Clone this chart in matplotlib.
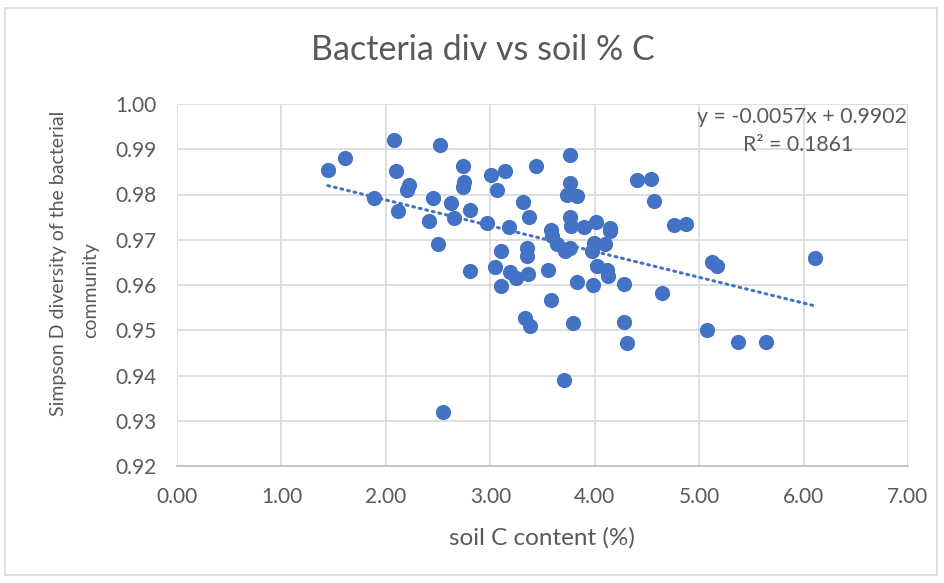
import numpy as np
import matplotlib
matplotlib.use('Agg')
import matplotlib.pyplot as plt
from matplotlib.patches import Rectangle

# soil C content (%) and Simpson D diversity
soil_c = [1.445, 1.604, 2.074, 2.515, 2.097, 2.218, 2.202, 1.889, 2.116, 2.451,
          2.413, 2.499, 2.627, 2.649, 2.735, 2.745, 2.735, 2.809, 2.806, 2.969,
          3.004, 3.068, 3.138, 3.177, 3.042, 3.100, 3.104, 3.186, 3.250, 3.362,
          3.314, 3.372, 3.442, 3.349, 3.353, 3.336, 3.385, 3.554, 3.583, 3.592,
          3.640, 3.720, 3.761, 3.583, 3.768, 3.768, 3.736, 3.832, 3.768, 3.775,
          3.902, 4.008, 4.145, 4.151, 3.992, 3.976, 4.094, 4.024, 4.120, 4.125,
          3.826, 3.986, 4.280, 3.790, 3.704, 2.547, 4.401, 4.541, 4.567, 4.758,
          4.870, 4.647, 5.126, 5.174, 6.107, 4.280, 4.305, 5.079, 5.376, 5.645]
simpson_d = [0.9854, 0.9880, 0.9920, 0.9909, 0.9852, 0.9822, 0.9811, 0.9792, 0.9763, 0.9792,
             0.9741, 0.9690, 0.9782, 0.9747, 0.9863, 0.9827, 0.9816, 0.9765, 0.9631, 0.9738,
             0.9844, 0.9809, 0.9852, 0.9729, 0.9639, 0.9676, 0.9597, 0.9628, 0.9616, 0.9625,
             0.9783, 0.9750, 0.9863, 0.9682, 0.9664, 0.9528, 0.9509, 0.9633, 0.9721, 0.9708,
             0.9690, 0.9675, 0.9682, 0.9566, 0.9887, 0.9826, 0.9798, 0.9796, 0.9751, 0.9730,
             0.9729, 0.9739, 0.9727, 0.9719, 0.9693, 0.9675, 0.9691, 0.9642, 0.9634, 0.9619,
             0.9607, 0.9600, 0.9603, 0.9515, 0.9389, 0.9319, 0.9832, 0.9835, 0.9786, 0.9732,
             0.9735, 0.9583, 0.9650, 0.9642, 0.9659, 0.9518, 0.9472, 0.9500, 0.9474, 0.9474]

# trendline as shown in the chart
slope = -0.0057
intercept = 0.9902

x_ticks = [0, 1, 2, 3, 4, 5, 6, 7]
y_ticks = [0.92, 0.93, 0.94, 0.95, 0.96, 0.97, 0.98, 0.99, 1.00]

plt.rcParams['font.family'] = ['Lato', 'DejaVu Sans']
grey = '#595959'
blue = '#4472C4'

W, H = 945, 583
fig = plt.figure(figsize=(W / 100, H / 100), dpi=100)
ax = fig.add_axes([177 / W, 117 / H, 731 / W, 362 / H])

ax.scatter(soil_c, simpson_d, s=120, color=blue, zorder=3, linewidths=0)

xt = np.array([min(soil_c), max(soil_c)])
ax.plot(xt, slope * xt + intercept, linestyle=(0, (0.6, 1.6)), color=blue,
        linewidth=2.2, dash_capstyle='round', zorder=2)

ax.set_xlim(0, 7)
ax.set_ylim(0.92, 1.00)
ax.set_xticks(x_ticks)
ax.set_xticklabels(['%.2f' % v for v in x_ticks])
ax.set_yticks(y_ticks)
ax.set_yticklabels(['%.2f' % v for v in y_ticks])
ax.tick_params(length=0, labelsize=15, labelcolor=grey)
ax.tick_params(axis='x', pad=15)
ax.tick_params(axis='y', pad=15)
ax.grid(True, color='#D9D9D9', linewidth=1.2, zorder=0)
ax.set_axisbelow(True)
for side in ['top', 'right', 'left']:
    ax.spines[side].set_visible(False)
ax.spines['bottom'].set_color('#BFBFBF')
ax.spines['bottom'].set_linewidth(1.2)

fig.text(542 / W, 1 - 538 / H, 'soil C content (%)', ha='center', va='center',
         fontsize=17.5, color=grey)
# y title: Excel wraps it in two lines, second one sits a bit lower
fig.text(59 / W, 1 - 263 / H, 'Simpson D diversity of the bacterial',
         rotation=90, ha='center', va='center', fontsize=14, color=grey)
fig.text(91 / W, 1 - 290 / H, 'community',
         rotation=90, ha='center', va='center', fontsize=14, color=grey)
fig.text(483 / W, 1 - 50 / H, 'Bacteria div vs soil % C', ha='center',
         va='center', fontsize=24.5, color=grey)

fig.text(802 / W, 1 - 117 / H, 'y = -0.0057x + 0.9902', ha='center',
         va='center', fontsize=15.3, color=grey)
fig.text(798 / W, 1 - 145 / H, 'R² = 0.1861', ha='center',
         va='center', fontsize=15.3, color=grey)

fig.patches.append(Rectangle((5 / W, 8 / H), 932 / W, 567 / H,
                             transform=fig.transFigure, fill=False,
                             edgecolor='#D9D9D9', linewidth=1.2))

plt.savefig('out.png', dpi=100)
